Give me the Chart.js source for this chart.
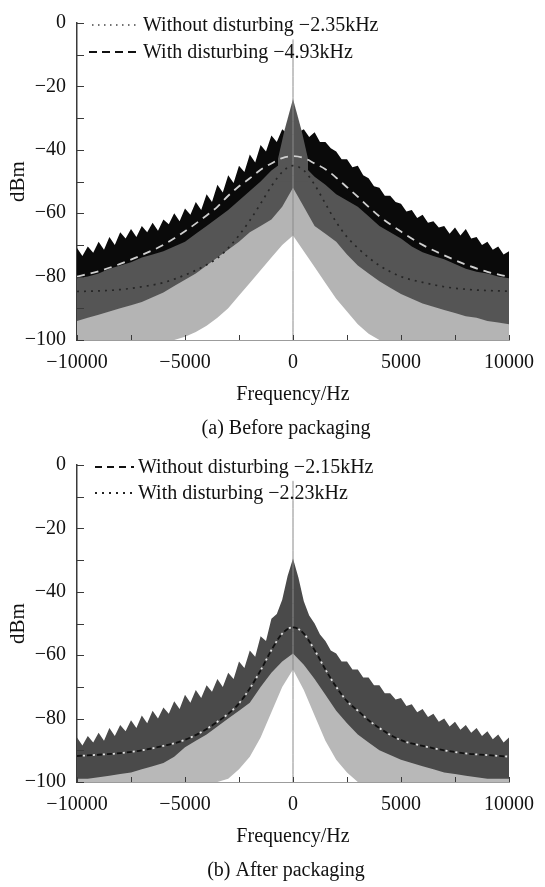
<!DOCTYPE html>
<html>
<head>
<meta charset="utf-8">
<script src="https://cdn.jsdelivr.net/npm/chart.js@4.4.0/dist/chart.umd.min.js"></script>
<style>
  html, body { margin: 0; padding: 0; background: #fff; }
  #wrap { position: relative; width: 545px; height: 887px; background: #fff; }
  canvas { position: absolute; left: 0; }
</style>
</head>
<body>
<div id="wrap">
  <canvas id="chartA" width="545" height="442" style="top:0;width:545px;height:442px"></canvas>
  <canvas id="chartB" width="545" height="442" style="top:442px;width:545px;height:442px"></canvas>
</div>
<script>
// ---- frequency grids (Hz) ----
const freqFine = [-10000,-9750,-9500,-9250,-9000,-8750,-8500,-8250,-8000,-7750,-7500,-7250,-7000,-6750,-6500,-6250,
  -6000,-5750,-5500,-5250,-5000,-4750,-4500,-4250,-4000,-3750,-3500,-3250,-3000,-2750,-2500,-2250,-2000,-1750,-1500,-1250,
  -1000,-750,-500,-250,0,250,500,750,1000,1250,1500,1750,2000,2250,2500,2750,3000,3250,3500,3750,4000,4250,4500,4750,
  5000,5250,5500,5750,6000,6250,6500,6750,7000,7250,7500,7750,8000,8250,8500,8750,9000,9250,9500,9750,10000];
const freqCoarse = [-10000,-9500,-9000,-8500,-8000,-7500,-7000,-6500,-6000,-5500,-5000,-4500,-4000,-3500,-3000,-2500,
  -2000,-1500,-1000,-500,0,500,1000,1500,2000,2500,3000,3500,4000,4500,5000,5500,6000,6500,7000,7500,8000,8500,9000,9500,10000];
const fitFreq = [-10000,-9000,-8000,-7000,-6000,-5000,-4000,-3500,-3000,-2500,-2000,-1500,-1000,-500,0,
  500,1000,1500,2000,2500,3000,3500,4000,5000,6000,7000,8000,9000,10000];
const peakFreqA = [-700, -400, 0, 400, 700];
const spikeFreq = [0, 0];

// ---- (a) Before packaging, dBm ----
const withTopA = [-71,-73.5,-70.5,-72.5,-69,-71.5,-67.5,-70,-66,-68,-65,-67.5,-64,-66,-63,-65.5,-62,-63.5,-60,-62.5,
  -58.5,-60.5,-56.5,-59,-54,-56.5,-51,-53.5,-48,-50.5,-45,-47,-41.5,-44,-38.5,-40.5,-35.5,-37.5,-33.5,-35,-32,
  -34.5,-33.5,-36,-34.5,-37.5,-37.5,-39.5,-40.5,-43,-43,-45.5,-45,-48,-49,-51.5,-52,-54.5,-54.5,-56.5,-57,-59.5,-59,
  -61.5,-60.5,-63,-62.5,-64.5,-64,-66.5,-64.5,-67,-65,-68,-67.5,-70,-69,-71.5,-70.5,-73,-72];
const withoutTopA = [-80.5,-80,-79,-77.5,-76.5,-75.5,-74,-73,-72,-70.5,-69,-66.5,-64,-61.5,-59,-56,-53,-50,-46.5,-44,
  -43,-45,-48.5,-51,-54,-56,-58,-61,-64,-66,-68,-70.5,-72.3,-73.5,-74.5,-76,-77.5,-78.5,-79,-80,-80.5];
const denseLowA = [-94,-93,-92,-91,-90,-89,-88,-86.5,-85,-83,-81,-79,-76.5,-74,-71.5,-69,-66,-64,-62,-58,
  -52,-58,-64,-66.5,-69,-73,-76.5,-79,-81.5,-83.5,-85.5,-87,-88.5,-89.5,-90.5,-91.5,-92.5,-93,-94,-94.5,-95];
const spikeLowA = [-100,-100,-100,-100,-100,-100,-100,-100,-100,-100,-99,-97.5,-95.5,-93,-90,-86,-82,-78,-74,-70,
  -67,-72,-77,-82,-87,-91,-95,-98,-100,-100,-100,-100,-100,-100,-100,-100,-100,-100,-100,-100,-100];
const peakA = [-43, -34, -24, -34, -43];
const carrierA = [-100, -5.2];
const fitWithA = [-80,-78.3,-76,-73.2,-70,-65.7,-60.7,-58,-54.5,-51.5,-49,-46.3,-44.3,-42.6,-42,
  -42.6,-44.3,-46.1,-48.8,-51.8,-54.8,-58,-61,-65.8,-70,-73.3,-76.2,-78.5,-80.1];
const fitWithoutA = [-84.7,-84.5,-84.1,-83.2,-81.9,-79.5,-76.3,-74.2,-71,-67,-62.3,-57,-51.5,-47,-45,
  -46.5,-51,-57,-62.8,-67.5,-71,-74,-76.5,-80,-81.8,-83.2,-84,-84.4,-84.6];

// ---- (b) After packaging, dBm ----
const topB = [-86,-88.5,-85.5,-87.5,-84.5,-87,-83,-85.5,-82,-84,-80.5,-83,-79,-81.5,-77.5,-80,-76.5,-78.5,-74.5,-77,
  -72.5,-75,-71,-73.5,-69.5,-71.5,-67.5,-70,-65.5,-67.5,-62,-64,-58.5,-60.5,-54,-55.5,-48.5,-47,-42.5,-35,-29.5,
  -35.5,-43,-47.5,-50,-53.5,-55.5,-58.5,-59.5,-62,-62,-64.5,-64.5,-67,-67,-69.5,-69.5,-72,-72,-74,-73.5,-76,-75.5,
  -78,-77,-79.5,-78.5,-81,-80,-82.5,-81,-83.5,-82,-84.5,-83,-85.5,-84,-86.5,-85,-87.5,-86];
const denseLowB = [-99,-99,-98.5,-98,-97.5,-97,-96,-95,-94,-92,-89,-87,-85,-82.5,-80,-77.5,-75,-70,-65.5,-62,
  -59.5,-63,-67.5,-72.5,-77.5,-81.5,-85,-87.5,-90,-91.5,-93,-94,-95,-96,-97,-97.5,-98,-98.5,-99,-99,-99];
const spikeLowB = [-100,-100,-100,-100,-100,-100,-100,-100,-100,-100,-100,-100,-100,-100,-99,-96,-92,-86,-78,-70,
  -64.5,-71,-79,-87,-93,-97,-100,-100,-100,-100,-100,-100,-100,-100,-100,-100,-100,-100,-100,-100,-100];
const carrierB = [-100, -5];
const fitWithoutB = [-91.8,-91.4,-90.9,-90,-88.6,-86.7,-83.3,-81,-78.5,-75.2,-70.5,-64.8,-58.4,-53.2,-51.2,
  -53.2,-58.4,-64.5,-70,-74.5,-77.5,-80.5,-83,-86.8,-88.6,-90,-91,-91.5,-92];
const fitWithB = [-91.8,-91.4,-90.9,-90,-88.6,-86.7,-83.3,-81,-78.5,-75.2,-70.5,-64.8,-58.4,-53.2,-51.2,
  -53.2,-58.4,-64.5,-70,-74.5,-77.5,-80.5,-83,-86.8,-88.6,-90,-91,-91.5,-92];

const FONT = '"Liberation Serif", "Times New Roman", serif';

function pts(xs, ys) {
  return xs.map((x, i) => ({ x: x, y: ys[i] }));
}

function fmt(v) {
  return String(v).replace('-', '\u2212');
}

// filled region from a curve down to the bottom of the axis
function band(xs, ys, color, order) {
  return {
    data: pts(xs, ys), order: order, backgroundColor: color,
    borderWidth: 0, pointRadius: 0, tension: 0, fill: { value: -100 }
  };
}

function curve(xs, ys, color, width, dash, offset, order) {
  return {
    data: pts(xs, ys), order: order, borderColor: color, borderWidth: width,
    borderDash: dash, borderDashOffset: offset, pointRadius: 0, fill: false,
    cubicInterpolationMode: 'monotone'
  };
}

// inward ticks, legend and caption
const panelText = {
  id: 'panelText',
  afterDraw(chart, args, opts) {
    const ctx = chart.ctx, area = chart.chartArea;
    const sx = chart.scales.x, sy = chart.scales.y;
    ctx.save();
    ctx.strokeStyle = '#3a3a3a';
    ctx.lineWidth = 1;
    sy.ticks.forEach(t => {
      const py = Math.round(sy.getPixelForValue(t.value)) + 0.5;
      ctx.beginPath(); ctx.moveTo(area.left, py); ctx.lineTo(area.left + 7, py); ctx.stroke();
    });
    sx.ticks.forEach(t => {
      const px = Math.round(sx.getPixelForValue(t.value)) + 0.5;
      ctx.beginPath(); ctx.moveTo(px, area.bottom); ctx.lineTo(px, area.bottom - 5); ctx.stroke();
    });

    ctx.font = '20px ' + FONT;
    ctx.fillStyle = '#111';
    ctx.textBaseline = 'middle';
    ctx.textAlign = 'left';
    opts.items.forEach(it => {
      ctx.strokeStyle = it.color;
      ctx.lineWidth = it.width;
      ctx.setLineDash(it.dash);
      ctx.beginPath(); ctx.moveTo(it.x0, it.y); ctx.lineTo(it.x1, it.y); ctx.stroke();
      ctx.setLineDash([]);
      ctx.fillText(it.text, it.tx, it.y + 1);
    });
    ctx.textAlign = 'center';
    ctx.fillText(opts.caption, 286, 429);
    ctx.restore();
  }
};

function makeChart(id, datasets, items, caption) {
  return new Chart(document.getElementById(id), {
    type: 'line',
    data: { datasets: datasets },
    options: {
      responsive: false,
      animation: false,
      devicePixelRatio: 1,
      layout: { padding: { top: 15, right: 27, bottom: 0, left: 0 } },
      plugins: {
        legend: { display: false },
        tooltip: { enabled: false },
        panelText: { items: items, caption: caption }
      },
      scales: {
        x: {
          type: 'linear', min: -10000, max: 10000,
          ticks: {
            stepSize: 2500, autoSkip: false, maxRotation: 0, padding: 11, color: '#111',
            font: { family: FONT, size: 20 },
            callback: v => (v % 5000 === 0 ? fmt(v) : '')
          },
          grid: { display: false, drawTicks: false },
          border: { display: true, color: '#3a3a3a', width: 1.5 },
          title: {
            display: true, text: 'Frequency/Hz', color: '#111',
            font: { family: FONT, size: 20 }, padding: { top: 0, bottom: 35 }
          },
          afterFit: s => { s.height = 102; }
        },
        y: {
          type: 'linear', min: -100, max: 0,
          ticks: {
            stepSize: 10, autoSkip: false, padding: 11, color: '#111',
            font: { family: FONT, size: 20 },
            callback: v => (v % 20 === 0 ? fmt(v) : '')
          },
          grid: { display: false, drawTicks: false },
          border: { display: true, color: '#3a3a3a', width: 1.5 },
          title: {
            display: true, text: 'dBm', color: '#111',
            font: { family: FONT, size: 21 }, padding: { top: 6, bottom: 0 }
          },
          afterFit: s => { s.width = 77; }
        }
      }
    },
    plugins: [panelText]
  });
}

document.addEventListener('DOMContentLoaded', function() {
  // (a) Before packaging
  makeChart('chartA', [
    curve(fitFreq, fitWithoutA, '#262626', 1.7, [2, 5], 0, 0),
    curve(fitFreq, fitWithA, '#cfcfcf', 1.8, [8, 6], 0, 1),
    curve(spikeFreq, carrierA, '#8a8a8a', 1, [], 0, 2),
    {
      data: pts(peakFreqA, peakA), order: 3, backgroundColor: '#555555',
      borderWidth: 0, pointRadius: 0, tension: 0, fill: { value: -50 }
    },
    band(freqCoarse, spikeLowA, '#ffffff', 4),
    band(freqCoarse, denseLowA, '#b4b4b4', 5),
    band(freqCoarse, withoutTopA, '#555555', 6),
    band(freqFine, withTopA, '#0a0a0a', 7)
  ], [
    { x0: 92, x1: 140, y: 25, color: '#444', width: 1.5, dash: [1.5, 4.5], tx: 143, text: 'Without disturbing \u22122.35kHz' },
    { x0: 89, x1: 140, y: 52, color: '#111', width: 2, dash: [8, 5], tx: 143, text: 'With disturbing \u22124.93kHz' }
  ], '(a) Before packaging');

  // (b) After packaging
  makeChart('chartB', [
    curve(fitFreq, fitWithB, '#e6e6e6', 1.8, [2, 8], -6, 0),
    curve(fitFreq, fitWithoutB, '#111111', 1.8, [5, 5], 0, 1),
    curve(spikeFreq, carrierB, '#8a8a8a', 1, [], 0, 2),
    band(freqCoarse, spikeLowB, '#ffffff', 3),
    band(freqCoarse, denseLowB, '#b8b8b8', 4),
    band(freqFine, topB, '#4a4a4a', 5)
  ], [
    { x0: 95, x1: 134, y: 25, color: '#111', width: 2, dash: [7, 5], tx: 138, text: 'Without disturbing \u22122.15kHz' },
    { x0: 95, x1: 134, y: 51, color: '#222', width: 2, dash: [2, 5], tx: 138, text: 'With disturbing \u22122.23kHz' }
  ], '(b) After packaging');
});
</script>
</body>
</html>
